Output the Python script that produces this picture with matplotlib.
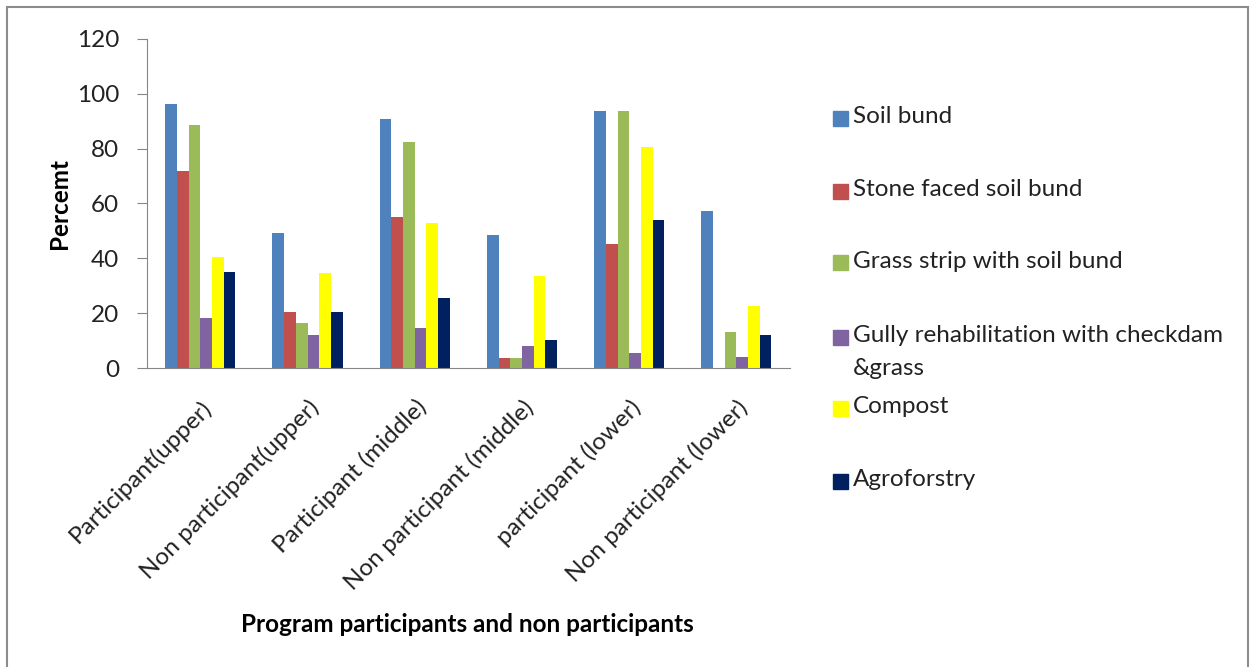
import numpy as np
import matplotlib.pyplot as plt
from matplotlib.patches import Rectangle

plt.rcParams['font.family'] = ['Lato', 'DejaVu Sans']

# categories and series (percent)
groups = ['Participant(upper)', 'Non participant(upper)', 'Participant (middle)',
          'Non participant (middle)', 'participant (lower)', 'Non participant (lower)']
series = ['Soil bund', 'Stone faced soil bund', 'Grass strip with soil bund',
          'Gully rehabilitation with checkdam\n&grass', 'Compost', 'Agroforstry']
soil_bund = [96.1, 49.4, 90.9, 48.4, 93.7, 57.3]
stone_bund = [71.8, 20.5, 55.1, 3.6, 45.2, 0]
grass_strip = [88.6, 16.3, 82.5, 3.6, 93.7, 13.3]
gully = [18.2, 12.0, 14.8, 7.9, 5.5, 4.1]
compost = [40.6, 34.8, 53.0, 33.6, 80.7, 22.7]
agroforestry = [35.0, 20.5, 25.6, 10.3, 54.1, 12.1]
values = [soil_bund, stone_bund, grass_strip, gully, compost, agroforestry]
colors = ['#4F81BD', '#C0504D', '#9BBB59', '#8064A2', '#FFFF00', '#002060']

fs = 17.5
fig = plt.figure(figsize=(12.54, 6.67), dpi=100)
ax = fig.add_axes([0.117, 0.448, 0.513, 0.494])

x = np.arange(len(groups))
w = 0.109
for i, (vals, c) in enumerate(zip(values, colors)):
    ax.bar(x + (i - 2.5) * w, vals, w, color=c, label=series[i])

ax.set_xlim(-0.5, len(groups) - 0.5)
ax.set_ylim(0, 120)
ax.set_yticks(range(0, 121, 20))
ax.tick_params(axis='y', labelsize=fs, colors='#868686', labelcolor='#222222',
               length=7, pad=13)
ax.tick_params(axis='x', length=0, labelsize=fs, labelcolor='#222222', pad=20)
ax.set_xticks(x)
ax.set_xticklabels(groups, rotation=45, ha='right', rotation_mode='anchor')
for s in ['top', 'right']:
    ax.spines[s].set_visible(False)
for s in ['left', 'bottom']:
    ax.spines[s].set_color('#868686')
ax.set_ylabel('Percemt', fontsize=fs, fontweight='bold', labelpad=4)
fig.text(0.373, 0.063, 'Program participants and non participants',
         fontsize=fs, fontweight='bold', ha='center', va='center')

# legend drawn by hand to keep Excel's uneven slots
legend_y = [118, 191, 263, 337, 408, 481]
for lab, c, yy in zip(series, colors, legend_y):
    fy = 1 - yy / 667
    fig.patches.append(Rectangle((833 / 1254, fy - 7.5 / 667), 15 / 1254, 15 / 667,
                                 transform=fig.transFigure, color=c))
    fig.text(853 / 1254, fy + 12 / 667, lab, fontsize=fs, ha='left', va='top',
             color='#222222', linespacing=1.72)

# outer frame
fig.patches.append(Rectangle((7 / 1254, -0.01), 1241 / 1254, 1 - 7 / 667 + 0.01,
                             transform=fig.transFigure, fill=False,
                             edgecolor='#8c8c8c', linewidth=1.5))

fig.savefig('out.png', dpi=100)
